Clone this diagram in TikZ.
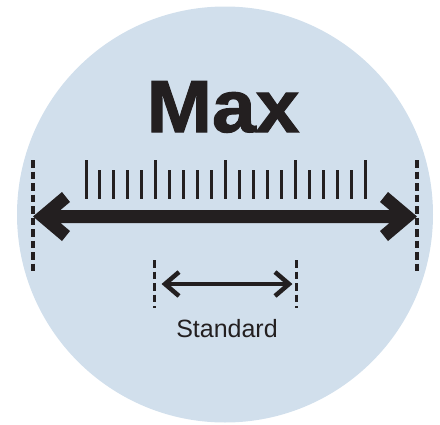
\documentclass[tikz,border=0pt]{standalone}
\usepackage{fontspec}
\setmainfont{Liberation Sans}
\newfontfamily\heavyfont[FakeBold=1.5]{Liberation Sans Bold}
\definecolor{bgblue}{RGB}{209,223,236}
\definecolor{ink}{RGB}{35,31,32}
\begin{document}
\begin{tikzpicture}[x=1pt,y=-1pt,
  bigdash/.style={draw=ink,line width=3.4pt,dash pattern=on 7.5pt off 4pt},
  smalldash/.style={draw=ink,line width=3pt,dash pattern=on 7.5pt off 4pt},
  tick/.style={draw=ink,line width=3pt},
  smallhead/.style={draw=ink,line width=4.5pt,miter limit=10},
  label/.style={text=ink,inner sep=0pt,anchor=base}]
\useasboundingbox (0,0) rectangle (440,424);
\fill[bgblue] (225,214.5) circle[radius=208];
% title
\node[label,font=\heavyfont\fontsize{74}{80}\selectfont,xscale=1.06] (max) at (223,132) {Max};
% ticks
\foreach \i in {0,...,20}{
  \pgfmathsetmacro{\xx}{86+13.95*\i}
  \pgfmathtruncatemacro{\m}{mod(\i,5)}
  \ifnum\m=0
    \draw[tick] (\xx,160) -- (\xx,199);
  \else
    \draw[tick] (\xx,170) -- (\xx,199);
  \fi
}
% big dashed limits
\coordinate (lt) at (33,160); \coordinate (lb) at (33,271);
\coordinate (rt) at (417,160); \coordinate (rb) at (417,271);
\draw[bigdash] (lt) -- (lb);
\draw[bigdash] (rt) -- (rb);
% big double arrow
\fill[ink] (33,216.5) -- (62,192) -- (70,202) -- (60.5,210) -- (389.5,210) -- (380,202) -- (388,192) -- (417,216.5)
  -- (388,241) -- (380,231) -- (389.5,223) -- (60.5,223) -- (70,231) -- (62,241) -- cycle;
% small dashed limits
\coordinate (slt) at (154,260); \coordinate (slb) at (154,308);
\coordinate (srt) at (296,260); \coordinate (srb) at (296,308);
\draw[smalldash] (slt) -- (slb);
\draw[smalldash] (srt) -- (srb);
% small double arrow
\coordinate (sl) at (165,284); \coordinate (sr) at (289,284);
\draw[draw=ink,line width=4pt] (sl) -- (sr);
\draw[smallhead] (179,272) -- (sl) -- (179,296);
\draw[smallhead] (275,272) -- (sr) -- (275,296);
\node[label,font=\fontsize{25}{30}\selectfont] (std) at (227,337) {Standard};
\end{tikzpicture}
\end{document}
